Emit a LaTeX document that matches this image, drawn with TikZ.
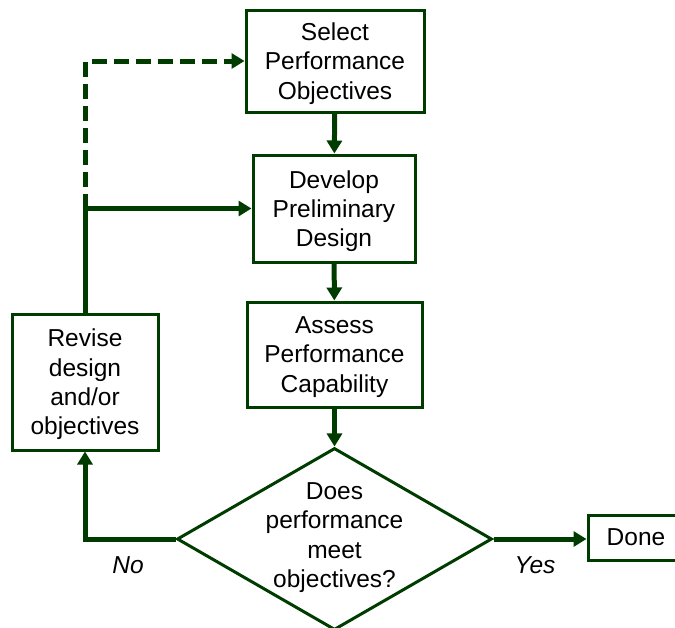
\documentclass[tikz,border=0pt]{standalone}
\usepackage{fontspec}
\setmainfont{Liberation Sans}
\usetikzlibrary{shapes.geometric,arrows.meta}
\definecolor{dkgreen}{RGB}{0,60,0}
\begin{document}
\begin{tikzpicture}[x=1pt,y=-1pt,
    box/.style={draw=dkgreen,line width=3pt,fill=white,align=center,inner sep=0pt,
      text depth=0pt,font=\fontsize{24.5}{29.3}\selectfont},
    arr/.style={draw=dkgreen,line width=5pt,-{Triangle[length=13pt,width=15pt]}},
    lbl/.style={font=\fontsize{24.5}{29.3}\selectfont\itshape}]
  \useasboundingbox (0,0) rectangle (675,627);
	% boxes
	\node[box,minimum width=178,minimum height=102] (sel) at (335,61) {Select\\Performance\\Objectives};
	\node[box,minimum width=162,minimum height=107] (dev) at (334,208.5) {Develop\\Preliminary\\Design};
	\node[box,minimum width=175,minimum height=105] (ass) at (334.5,354.5) {Assess\\Performance\\Capability};
	\node[box,minimum width=146,minimum height=136] (rev) at (85,382) {Revise\\design\\and/or\\objectives};
	\node[box,minimum width=96,minimum height=45] (done) at (636,537.5) {Done};
	\node[box,diamond,minimum width=315,minimum height=182] (q) at (334.5,539) {};
	\node[box,draw=none,fill=none] (qt) at (334.5,535) {Does\\performance\\meet\\objectives?};
	% arrows
	\draw[arr] (sel) -- (dev);
	\draw[arr] (dev) -- (ass);
	\draw[arr] (ass) -- (q);
	\draw[arr] (q.west) -| (rev.south);
	\draw[arr] (q.east) -- (q.east -| done.west);
	\draw[arr] (rev.north) |- (dev.west);
	\coordinate (j) at (rev.north |- dev.west);
	\draw[arr,dash pattern=on 15pt off 7pt] (j) |- (sel.west);
	\node[lbl] (no) at (128,565) {No};
	\node[lbl] (yes) at (535,565) {Yes};
      \end{tikzpicture}
\end{document}
